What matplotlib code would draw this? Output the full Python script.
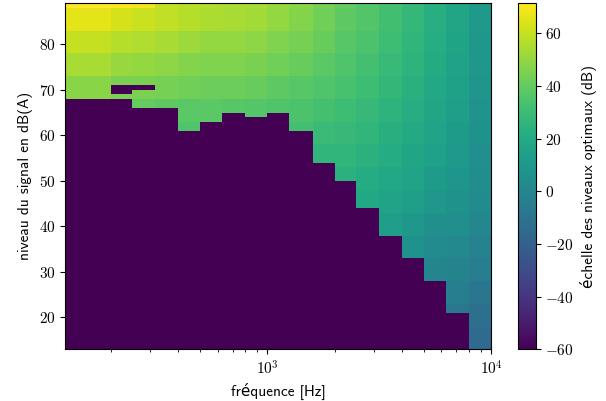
import numpy as np
import matplotlib.pyplot as plt

plt.rcParams['font.family'] = 'cmr10'
plt.rcParams['mathtext.fontset'] = 'cm'
plt.rcParams['axes.formatter.use_mathtext'] = True
plt.rcParams['font.size'] = 11

# bords des bandes de tiers d'octave (Hz)
freq_edges = [125, 200, 250, 315, 400, 500, 630, 800, 1000, 1250, 1600,
              2000, 2500, 3150, 4000, 5000, 6300, 8000, 10000]
# bords des niveaux (dB(A)), pas de 1 dB
level_edges = np.arange(13, 90)

# niveau en dessous duquel la bande est hors echelle
floors = [68, 68, 66, 66, 61, 63, 65, 64, 65, 61, 54, 50, 44, 38, 33, 28, 21, 13]
# trous isoles (colonne, niveau bas, niveau haut)
holes = [(1, 69, 71), (2, 70, 71)]

# valeurs, par tranche de niveau (debut de tranche)
band_starts = [88, 83, 78, 73, 68, 63, 58, 53, 48, 43, 38, 33, 28, 23, 18, 13]
N = np.nan
optimal = [
    [71.4, 70, 69, 60, 58, 56, 55, 54, 51, 48, 44, 40, 36, 32, 28, 23, 18, 11],
    [66, 63, 61, 59, 57, 55, 54, 53, 50, 47, 43, 39, 35.5, 31.5, 27.5, 22.5, 17.5, 10.5],
    [60, 57, 56, 54, 52, 50, 50, 49, 46, 44, 41, 37, 34, 30, 26, 21.5, 16.5, 10],
    [54, 51, 50, 49, 47, 46, 46, 45, 43, 41, 38, 35, 32, 28.5, 25, 20.5, 15.5, 9.5],
    [48, 45, 45, 44, 43, 42, 42, 41, 39, 37, 35, 33, 30, 27, 23.5, 19, 14.5, 8.5],
    [N, N, 40, 39, 38, 38, 37, 36, 35, 34, 32, 30, 28, 25, 22, 17.5, 13, 7.5],
    [N, N, N, N, 35, N, N, N, N, 32, 29, 28, 26, 23, 20, 16, 12, 6.5],
    [N] * 10 + [26, 26, 24, 21, 18, 14, 10.5, 5],
    [N] * 11 + [24, 21, 19, 16, 12, 9, 4],
    [N] * 12 + [19, 16, 13, 9.5, 7, 3],
    [N] * 13 + [13, 10, 5.5, 5, 1],
    [N] * 14 + [7, 3, 2, -1.5],
    [N] * 15 + [0, -1, -5],
    [N] * 16 + [-4.5, -8.5],
    [N] * 16 + [-8, -12],
    [N] * 17 + [-15],
]
vmin = -60

table = np.array(optimal)[::-1]
bands = np.array(band_starts[::-1])
levels = level_edges[:-1]
grid = np.full((len(levels), len(freq_edges) - 1), float(vmin))
for i, lev in enumerate(levels):
    b = np.searchsorted(bands, lev, side='right') - 1
    for j in range(len(floors)):
        if lev >= floors[j]:
            grid[i, j] = table[b, j]
for j, lo, hi in holes:
    grid[(levels >= lo) & (levels < hi), j] = vmin

sans = ['cmss10', 'DejaVu Sans']

fig = plt.figure(figsize=(6.06, 4.01), dpi=100)
ax = fig.add_axes([0.1073, 0.1289, 0.7030, 0.8628])
cax = fig.add_axes([0.8548, 0.1289, 0.0292, 0.8628])

mesh = ax.pcolormesh(freq_edges, level_edges, grid, cmap='viridis',
                     vmin=vmin, vmax=np.nanmax(table))
ax.set_xscale('log')
ax.set_xlim(freq_edges[0], freq_edges[-1])
ax.set_ylim(level_edges[0], level_edges[-1])
ax.set_xlabel('fréquence [Hz]', family=sans)
ax.set_ylabel('niveau du signal en dB(A)', family=sans)

cb = fig.colorbar(mesh, cax=cax)
cb.set_label('échelle des niveaux optimaux (dB)', family=sans)

fig.savefig('out.png', dpi=100)
